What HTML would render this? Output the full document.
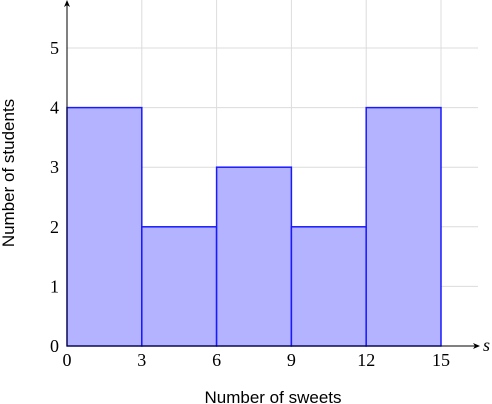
<!DOCTYPE html>
<html><head><meta charset="utf-8"><style>
html,body{margin:0;padding:0;background:#fff;}
svg{display:block;}
text{font-family:"Liberation Serif",serif;font-size:18px;fill:#000;}
.lab{font-family:"Liberation Sans",sans-serif;font-size:17px;}
</style></head><body>
<svg id="chart" width="492" height="404">
<defs><marker id="arr" markerWidth="8" markerHeight="8" refX="6" refY="4" orient="auto" markerUnits="userSpaceOnUse"><path d="M0,1 L7,4 L0,7 L2,4 Z" fill="#000"/></marker></defs>
<g id="grid"></g>
<g id="bars"></g>
<g id="axes"></g>
<text class="lab" x="273" y="403" text-anchor="middle">Number of sweets</text>
<text class="lab" x="14" y="173" text-anchor="middle" transform="rotate(-90 14 173)">Number of students</text>
</svg>
<script>
const binEdges=[0,3,6,9,12,15];
const counts=[4,2,3,2,4];
const xTicks=[0,3,6,9,12,15];
const yTicks=[0,1,2,3,4,5];
const NS="http://www.w3.org/2000/svg";
const X0=67,XS=(441-67)/15,Y0=346,YS=(346-48)/5;
const xp=v=>X0+v*XS, yp=v=>Y0-v*YS;
function mk(tag,attrs,parent,txt){const e=document.createElementNS(NS,tag);for(const k in attrs)e.setAttribute(k,attrs[k]);if(txt!==undefined)e.textContent=txt;document.getElementById(parent).appendChild(e);return e;}
yTicks.forEach(t=>{if(t>0){const l=mk('line',{x1:X0,x2:478,y1:yp(t),y2:yp(t),stroke:'#dcdcdc','stroke-width':1},'grid');

}
const tx=mk('text',{x:X0-8,y:yp(t)+6,'text-anchor':'end'},'axes',String(t));

});
xTicks.forEach(t=>{if(t>0){const l=mk('line',{x1:xp(t),x2:xp(t),y1:Y0,y2:0,stroke:'#dcdcdc','stroke-width':1},'grid');

}
const tx=mk('text',{x:xp(t),y:Y0+20,'text-anchor':'middle'},'axes',String(t));

});
counts.forEach((c,i)=>{const r=mk('rect',{x:xp(binEdges[i]),y:yp(c),width:xp(binEdges[i+1])-xp(binEdges[i]),height:Y0-yp(c),fill:'#b3b3ff',stroke:'#1a1aff','stroke-width':1.5},'bars');

});
const xa=mk('line',{x1:X0,y1:Y0,x2:479,y2:Y0,stroke:'#000','stroke-width':1,'marker-end':'url(#arr)'},'axes');


const ya=mk('line',{x1:X0,y1:Y0,x2:X0,y2:1,stroke:'#000','stroke-width':1,'marker-end':'url(#arr)'},'axes');


const s=mk('text',{x:483,y:351,'font-style':'italic'},'axes','s');


</script>
</body></html>
